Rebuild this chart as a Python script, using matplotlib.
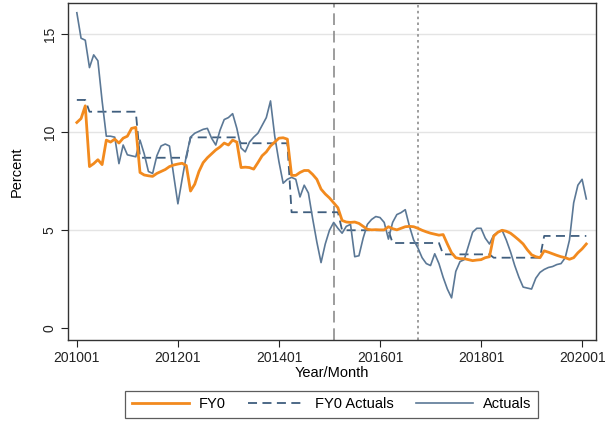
import matplotlib.pyplot as plt
import numpy as np

plt.rcParams['font.family'] = ['Liberation Sans', 'DejaVu Sans']

# monthly index, 0 = 201001 ... 121 = 202002
months = np.arange(122)

fy0 = [10.5, 10.7, 11.35, 8.25, 8.4, 8.6, 8.35, 9.6, 9.5, 9.65,
       9.45, 9.7, 9.8, 10.2, 10.25, 7.95, 7.82, 7.78, 7.75, 7.9,
       8.0, 8.1, 8.25, 8.33, 8.38, 8.42, 8.3, 7.0, 7.35, 8.0,
       8.45, 8.7, 8.9, 9.1, 9.25, 9.45, 9.35, 9.6, 9.5, 8.2,
       8.22, 8.2, 8.12, 8.45, 8.8, 9.0, 9.3, 9.5, 9.7, 9.72,
       9.65, 7.8, 7.8, 7.95, 8.05, 8.05, 7.85, 7.6, 7.1, 6.85,
       6.65, 6.4, 6.15, 5.5, 5.42, 5.4, 5.42, 5.35, 5.2, 5.05,
       5.02, 5.03, 5.02, 5.02, 5.18, 5.08, 5.02, 5.1, 5.18, 5.2,
       5.18, 5.1, 5.0, 4.92, 4.85, 4.8, 4.75, 4.78, 4.3, 3.85,
       3.6, 3.55, 3.55, 3.5, 3.45, 3.48, 3.5, 3.6, 3.65, 4.7,
       4.9, 5.0, 4.95, 4.85, 4.68, 4.5, 4.3, 4.0, 3.75, 3.65,
       3.6, 3.95, 3.88, 3.8, 3.72, 3.65, 3.6, 3.52, 3.6, 3.85,
       4.05, 4.3]

# fiscal-year actuals: level and number of months it holds
fy0_act_levels = [11.65, 11.05, 8.7, 9.74, 9.44, 5.92, 5.0, 4.35, 3.77, 3.6, 4.71]
fy0_act_months = [3, 12, 12, 12, 12, 12, 12, 12, 12, 12, 11]
fy0_actuals = np.repeat(fy0_act_levels, fy0_act_months)

actuals = [16.1, 14.8, 14.7, 13.3, 13.95, 13.65, 11.6, 9.8, 9.8, 9.75,
           8.4, 9.35, 8.85, 8.8, 8.75, 9.6, 8.9, 8.0, 7.9, 8.8,
           9.3, 9.4, 9.3, 7.8, 6.35, 7.6, 8.8, 9.75, 9.95, 10.05,
           10.15, 10.2, 9.7, 9.35, 10.1, 10.65, 10.75, 10.95, 10.2, 9.2,
           9.0, 9.5, 9.75, 9.95, 10.35, 10.75, 11.6, 9.8, 8.5, 7.4,
           7.6, 7.7, 7.6, 6.7, 7.3, 6.9, 5.6, 4.4, 3.35, 4.3,
           5.0, 5.4, 5.1, 4.85, 5.2, 5.3, 3.65, 3.7, 4.6, 5.3,
           5.55, 5.7, 5.65, 5.4, 4.55, 5.4, 5.8, 5.9, 6.05, 5.2,
           4.5, 4.1, 3.6, 3.3, 3.2, 3.8, 3.3, 2.6, 2.0, 1.55,
           2.9, 3.4, 3.5, 4.2, 4.9, 5.1, 5.1, 4.6, 4.3, 4.75,
           4.9, 5.0, 4.5, 3.9, 3.2, 2.6, 2.1, 2.05, 2.0, 2.55,
           2.85, 3.0, 3.1, 3.15, 3.25, 3.3, 3.6, 4.5, 6.4, 7.3,
           7.6, 6.6]

tick_pos = [0, 24, 48, 72, 96, 120]
tick_labels = ["201001", "201201", "201401", "201601", "201801", "202001"]
vline_dash = 61   # 201502
vline_dot = 81    # 201610

fig = plt.figure(figsize=(6.05, 4.21), dpi=100)
ax = fig.add_axes([0.1124, 0.1924, 0.8727, 0.8006])

for v in [5, 10, 15]:
    ax.axhline(v, color='#e4e4e4', lw=1.0, zorder=0)

ax.axvline(vline_dash, color='#8c8c8c', lw=1.2, ls=(0, (7, 3.5)), zorder=1)
ax.axvline(vline_dot, color='#8c8c8c', lw=1.2, ls=(0, (1.5, 2)), zorder=1)

ax.plot(months, fy0, color='#f28a1e', lw=2.0, label='FY0', zorder=3)
ax.plot(months, fy0_actuals, color='#3f5e7e', lw=1.3, ls=(0, (5, 3)),
        label='FY0 Actuals', zorder=2)
ax.plot(months, actuals, color='#5b7896', lw=1.2, label='Actuals', zorder=2)

ax.set_xlim(-2.1, 123.3)
ax.set_ylim(-0.6, 16.6)
ax.set_xticks(tick_pos)
ax.set_xticklabels(tick_labels)
ax.set_yticks([0, 5, 10, 15])
ax.set_yticklabels(['0', '5', '10', '15'], rotation=90, va='center')
ax.tick_params(labelsize=10, length=5, width=0.8, colors='#222222', pad=3)
for s in ax.spines.values():
    s.set_color('#333333')
    s.set_linewidth(1.0)

ax.set_xlabel('Year/Month', fontsize=10.5, labelpad=1)
ax.set_ylabel('Percent', fontsize=10.5, labelpad=14)

leg = fig.legend(loc='center', bbox_to_anchor=(0.548, 0.04), ncol=3,
                 fontsize=10.5, frameon=True, fancybox=False,
                 handlelength=3.9, handletextpad=0.7, columnspacing=1.5,
                 borderpad=0.45)
leg.get_frame().set_edgecolor('#333333')
leg.get_frame().set_linewidth(0.9)

fig.savefig('out.png', dpi=100)
